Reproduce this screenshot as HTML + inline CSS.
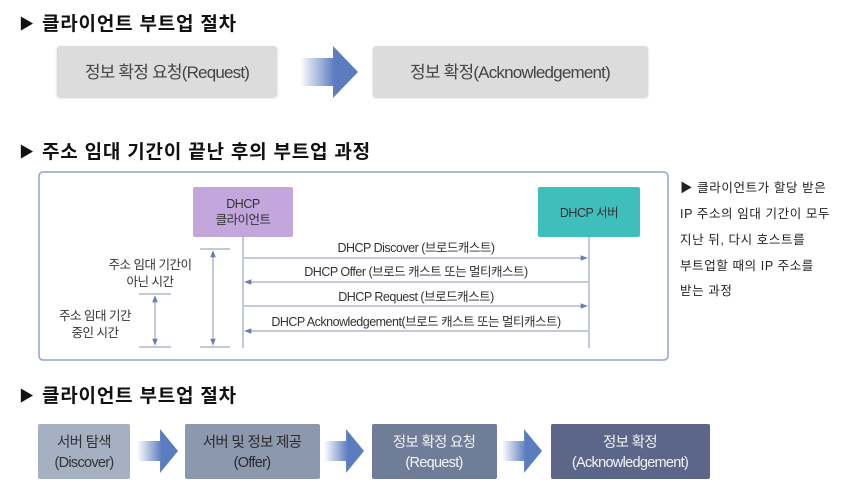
<!DOCTYPE html>
<html><head><meta charset="utf-8"><style>
html,body{margin:0;padding:0;background:#fff;}
svg{display:block;font-family:"Liberation Sans","Noto Sans CJK KR",sans-serif;}
</style></head><body>
<svg width="849" height="498" viewBox="0 0 849 498" xmlns="http://www.w3.org/2000/svg">
<defs>
<linearGradient id="ag" x1="0" x2="1" y1="0" y2="0">
<stop offset="0" stop-color="#5b7cbf" stop-opacity="0"/>
<stop offset="0.6" stop-color="#5b7cbf"/>
<stop offset="1" stop-color="#5b7cbf"/>
</linearGradient>
<filter id="sh" x="-10%" y="-10%" width="120%" height="130%"><feDropShadow dx="0" dy="1" stdDeviation="1" flood-color="#000" flood-opacity="0.2"/></filter>
<marker id="ar" viewBox="0 0 10 10" refX="9" refY="5" markerWidth="7" markerHeight="7" orient="auto-start-reverse"><path d="M0,1 L10,5 L0,9 z" fill="#6a7cb0"/></marker>
</defs>

<text x="19" y="29" font-size="15" fill="#111">▶</text>
<text x="42" y="30" font-size="19" font-weight="bold" fill="#111" letter-spacing="0.8">클라이언트 부트업 절차</text>

<rect x="57" y="46" width="220" height="51" rx="3" fill="#dcdcdc" filter="url(#sh)"/>
<text x="167" y="78" font-size="17" fill="#444" text-anchor="middle" letter-spacing="-0.8">정보 확정 요청(Request)</text>
<path d="M300,58 L333,58 L333,46 L358,72 L333,98 L333,86 L300,86 z" fill="url(#ag)"/>
<rect x="373" y="46" width="275" height="51" rx="3" fill="#dcdcdc" filter="url(#sh)"/>
<text x="510" y="78" font-size="17" fill="#444" text-anchor="middle" letter-spacing="-0.8">정보 확정(Acknowledgement)</text>

<text x="19" y="157" font-size="15" fill="#111">▶</text>
<text x="42" y="158" font-size="19" font-weight="bold" fill="#111" letter-spacing="0.8">주소 임대 기간이 끝난 후의 부트업 과정</text>

<rect x="39" y="172" width="629" height="188" rx="4" fill="#fff" stroke="#8fa3cc" stroke-width="1.5"/>

<rect x="193" y="187" width="100" height="50" rx="2" fill="#c3a6dc"/>
<text x="243" y="208" font-size="12.5" fill="#333" text-anchor="middle" letter-spacing="-0.5">DHCP</text>
<text x="243" y="224" font-size="12.5" fill="#333" text-anchor="middle" letter-spacing="-0.5">클라이언트</text>
<rect x="538" y="187" width="102" height="50" rx="2" fill="#3fbfbc"/>
<text x="589" y="217" font-size="12.5" fill="#333" text-anchor="middle" letter-spacing="-0.5">DHCP 서버</text>

<g stroke="#8a93b5" stroke-width="1">
<line x1="243" y1="237" x2="243" y2="348"/>
<line x1="589" y1="237" x2="589" y2="348"/>
<line x1="244" y1="258" x2="587" y2="258" marker-end="url(#ar)"/>
<line x1="588" y1="282" x2="245" y2="282" marker-end="url(#ar)"/>
<line x1="244" y1="306" x2="587" y2="306" marker-end="url(#ar)"/>
<line x1="588" y1="331" x2="245" y2="331" marker-end="url(#ar)"/>
<line x1="200" y1="249" x2="230" y2="249"/>
<line x1="200" y1="347" x2="230" y2="347"/>
<line x1="213" y1="251" x2="213" y2="345" marker-start="url(#ar)" marker-end="url(#ar)"/>
<line x1="139" y1="294" x2="171" y2="294"/>
<line x1="139" y1="347" x2="171" y2="347"/>
<line x1="155" y1="296" x2="155" y2="345" marker-start="url(#ar)" marker-end="url(#ar)"/>
</g>
<g font-size="12.5" fill="#333" text-anchor="middle" letter-spacing="-0.5">
<text x="416" y="252">DHCP Discover (브로드캐스트)</text>
<text x="416" y="276">DHCP Offer (브로드 캐스트 또는 멀티캐스트)</text>
<text x="416" y="301">DHCP Request (브로드캐스트)</text>
<text x="416" y="326">DHCP Acknowledgement(브로드 캐스트 또는 멀티캐스트)</text>
<text x="150" y="269">주소 임대 기간이</text>
<text x="150" y="286">아닌 시간</text>
<text x="95" y="320">주소 임대 기간</text>
<text x="95" y="337">중인 시간</text>
</g>

<g font-size="12.5" fill="#222" letter-spacing="0.6">
<text x="680" y="192">▶ 클라이언트가 할당 받은</text>
<text x="680" y="218">IP 주소의 임대 기간이 모두</text>
<text x="680" y="244">지난 뒤, 다시 호스트를</text>
<text x="680" y="270">부트업할 때의 IP 주소를</text>
<text x="680" y="295">받는 과정</text>
</g>

<text x="19" y="401" font-size="15" fill="#111">▶</text>
<text x="42" y="402" font-size="19" font-weight="bold" fill="#111" letter-spacing="0.8">클라이언트 부트업 절차</text>

<g font-size="14.5" fill="#f4f5f8" text-anchor="middle" letter-spacing="-0.7">
<rect x="38" y="424" width="92" height="55" rx="2" fill="#a6b0c3"/>
<text x="84" y="447" fill="#333">서버 탐색</text>
<text x="84" y="467" fill="#333">(Discover)</text>
<path d="M137,441 L160,441 L160,429 L178,451 L160,473 L160,461 L137,461 z" fill="url(#ag)"/>
<rect x="185" y="424" width="135" height="55" rx="2" fill="#8c98ae"/>
<text x="252" y="447" fill="#2a2a2a">서버 및 정보 제공</text>
<text x="252" y="467" fill="#2a2a2a">(Offer)</text>
<path d="M324,441 L346,441 L346,429 L364,451 L346,473 L346,461 L324,461 z" fill="url(#ag)"/>
<rect x="372" y="424" width="125" height="55" rx="2" fill="#6f7d98"/>
<text x="434" y="447">정보 확정 요청</text>
<text x="434" y="467">(Request)</text>
<path d="M502,441 L524,441 L524,429 L542,451 L524,473 L524,461 L502,461 z" fill="url(#ag)"/>
<rect x="551" y="424" width="159" height="55" rx="2" fill="#5b6688"/>
<text x="630" y="447">정보 확정</text>
<text x="630" y="467">(Acknowledgement)</text>
</g>
</svg>
</body></html>
